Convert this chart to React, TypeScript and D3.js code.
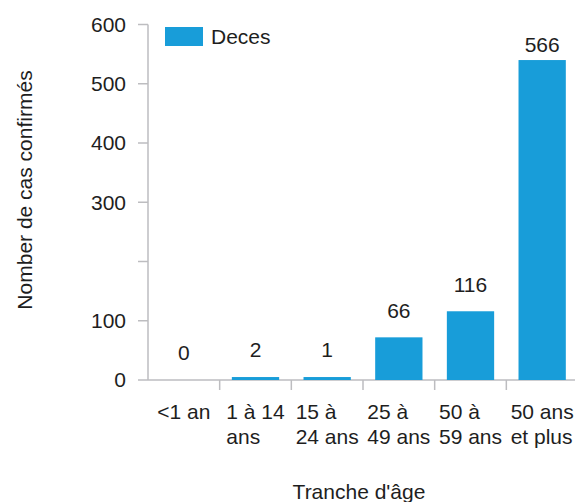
import React, { useEffect, useRef } from "react";
import * as d3 from "d3";

const W = 575;
const H = 502;

const categories = ["<1 an", "1 à 14 ans", "15 à 24 ans", "25 à 49 ans", "50 à 59 ans", "50 ans et plus"];
const categoryLines = [["<1 an"], ["1 à 14", "ans"], ["15 à", "24 ans"], ["25 à", "49 ans"], ["50 à", "59 ans"], ["50 ans", "et plus"]];
// labelled death counts
const deaths = [0, 2, 1, 66, 116, 566];
// bar heights as they are drawn in the picture
const barValues = [0, 5, 5, 72, 116, 540];
const yTicks = [0, 100, 200, 300, 400, 500, 600];
const yTickLabels = ["0", "100", "", "300", "400", "500", "600"];

const FONT = "'Liberation Sans', Arial, Helvetica, sans-serif";
const BLUE = "#189dd9";
const TEXT = "#1e1e1e";
const AXIS = "#bdbdc0";

const App = () => {
  const ref = useRef<SVGSVGElement>(null);

  useEffect(() => {
    const svg = d3.select(ref.current);
    svg.selectAll("*").remove();

    const x = d3.scaleBand().domain(categories).range([148, 578]).paddingInner(0.34).paddingOuter(0.17);
    const y = d3.scaleLinear().domain([0, 600]).range([380, 24.5]);

    const g = svg.append("g").style("font-family", FONT).style("font-size", "21px");

    // y axis
    g.append("line").attr("x1", 148).attr("x2", 148).attr("y1", y(600)).attr("y2", y(0))
      .attr("stroke", AXIS).attr("stroke-width", 1.5);
    yTicks.forEach((t, i) => {
      g.append("line").attr("x1", 138).attr("x2", 148).attr("y1", y(t)).attr("y2", y(t))
        .attr("stroke", AXIS).attr("stroke-width", 1.5);
      g.append("text").attr("x", 126).attr("y", y(t)).attr("dy", "0.35em")
        .attr("text-anchor", "end").attr("fill", TEXT).text(yTickLabels[i]);
    });

    // x axis
    g.append("line").attr("x1", 148).attr("x2", 575).attr("y1", y(0)).attr("y2", y(0))
      .attr("stroke", AXIS).attr("stroke-width", 1.5);
    const step = x.step();
    categories.slice(1).forEach((c) => {
      const bx = x(c)! - (step - x.bandwidth()) / 2;
      g.append("line").attr("x1", bx).attr("x2", bx).attr("y1", y(0)).attr("y2", y(0) + 10)
        .attr("stroke", AXIS).attr("stroke-width", 1.5);
    });

    // bars
    g.selectAll("rect.bar").data(barValues).join("rect").attr("class", "bar")
      .attr("x", (_, i) => x(categories[i])!)
      .attr("width", x.bandwidth())
      .attr("y", (d) => y(d))
      .attr("height", (d) => y(0) - y(d))
      .attr("fill", BLUE);

    // value labels
    deaths.forEach((d, i) => {
      const cy = Math.max(y(barValues[i]) - 27, 45);
      g.append("text").attr("x", x(categories[i])! + x.bandwidth() / 2).attr("y", cy)
        .attr("dy", "0.35em").attr("text-anchor", "middle").attr("fill", TEXT).text(String(d));
    });

    // category labels, left-aligned block centred on band
    categoryLines.forEach((lines, i) => {
      const cx = x(categories[i])! + x.bandwidth() / 2;
      const t = g.append("text").attr("fill", TEXT);
      lines.forEach((l, j) => {
        t.append("tspan").attr("y", 419 + j * 25).text(l);
      });
      let maxW = 0;
      t.selectAll<SVGTSpanElement, unknown>("tspan").each(function () {
        maxW = Math.max(maxW, this.getComputedTextLength());
      });
      t.selectAll("tspan").attr("x", cx - maxW / 2);
    });

    // legend
    g.append("rect").attr("x", 165).attr("y", 27).attr("width", 38).attr("height", 19).attr("fill", BLUE);
    g.append("text").attr("x", 211).attr("y", 36.5).attr("dy", "0.35em").attr("fill", TEXT).text("Deces");

    // axis titles
    g.append("text").attr("transform", "translate(25,190) rotate(-90)").attr("dy", "0.35em")
      .attr("text-anchor", "middle").attr("fill", TEXT).text("Nomber de cas confirmés");
    g.append("text").attr("x", 359).attr("y", 492).attr("dy", "0.35em")
      .attr("text-anchor", "middle").attr("fill", TEXT).text("Tranche d'âge");
  }, []);

  return (
    <svg ref={ref} width={W} height={H} style={{ position: "absolute", left: 0, top: 0, background: "#fff" }} />
  );
};

export default App;
